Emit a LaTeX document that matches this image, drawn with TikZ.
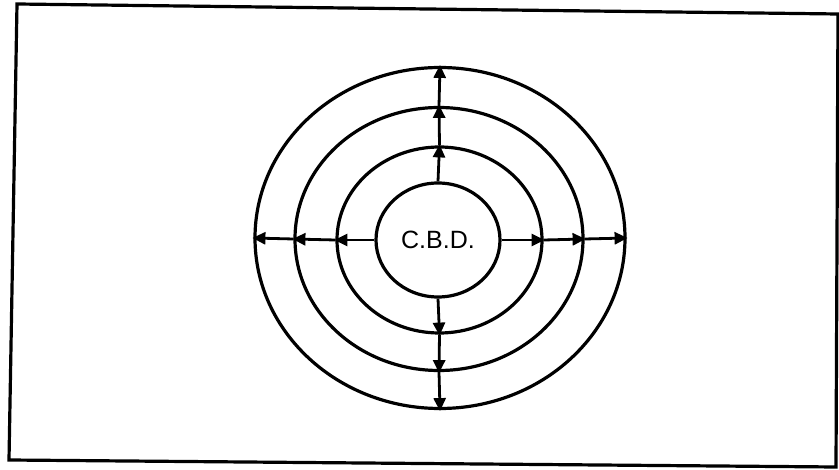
\documentclass[tikz,border=0pt]{standalone}
\usepackage{fontspec}
\setmainfont{Liberation Sans}
\usetikzlibrary{shapes.geometric,arrows.meta}
\begin{document}
\begin{tikzpicture}[x=1pt,y=-1pt,
  ring/.style={draw, ellipse, line width=3.2pt, inner sep=0pt},
  outarrow/.style={line width=2.8pt, -{Triangle[length=13pt,width=12pt]}, shorten >=-1pt}]
\useasboundingbox (0,0) rectangle (839,470);
\draw[line width=3.2pt, line join=miter] (17,4) -- (838,14) -- (836,467) -- (9,460) -- cycle;
\node[ring, minimum width=370pt, minimum height=341pt] (r4) at (440,238) {};
\node[ring, minimum width=288pt, minimum height=263pt] (r3) at (439,239) {};
\node[ring, minimum width=205pt, minimum height=186pt] (r2) at (439.5,240) {};
\node[ring, minimum width=124pt, minimum height=114pt, font=\fontsize{25}{28}\selectfont] (c) at (438,240) {C.B.D.};
% up
\draw[outarrow] (c.north) -- (r2.north);
\draw[outarrow] (r2.north) -- (r3.north);
\draw[outarrow] (r3.north) -- (r4.north);
% down
\draw[outarrow] (c.south) -- (r2.south);
\draw[outarrow] (r2.south) -- (r3.south);
\draw[outarrow] (r3.south) -- (r4.south);
% left
\draw[outarrow] (c.west) -- (r2.west);
\draw[outarrow] (r2.west) -- (r3.west);
\draw[outarrow] (r3.west) -- (r4.west);
% right
\draw[outarrow] (c.east) -- (r2.east);
\draw[outarrow] (r2.east) -- (r3.east);
\draw[outarrow] (r3.east) -- (r4.east);
\end{tikzpicture}
\end{document}
